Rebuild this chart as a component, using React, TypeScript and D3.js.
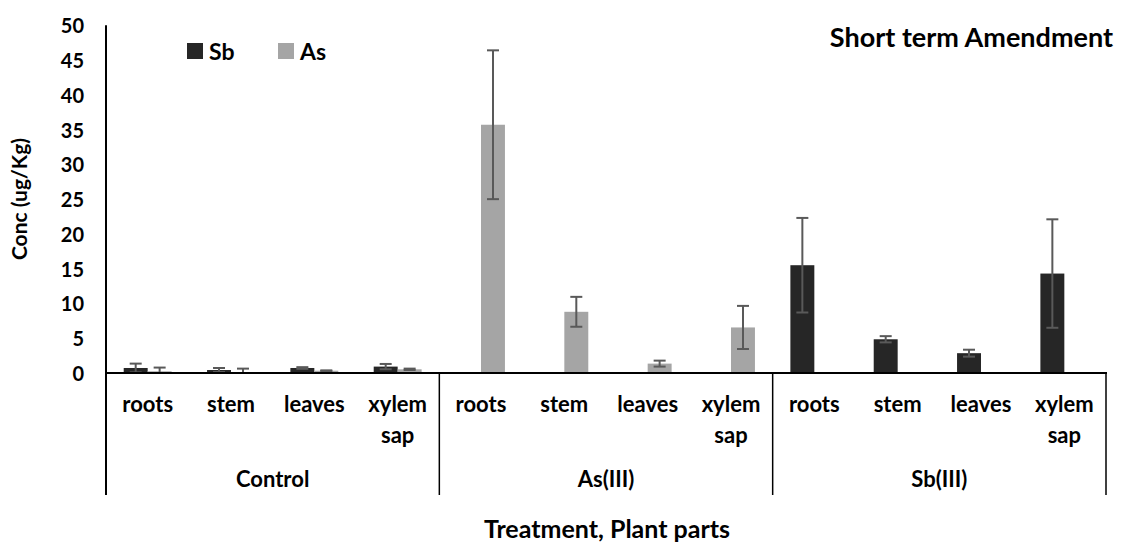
import React from "react";
import * as d3 from "d3";

const categories = [
  "roots", "stem", "leaves", "xylem sap",
  "roots", "stem", "leaves", "xylem sap",
  "roots", "stem", "leaves", "xylem sap",
];
const groups = ["Control", "As(III)", "Sb(III)"];
const seriesNames = ["Sb", "As"];
const sbValues = [0.72, 0.43, 0.72, 0.92, 0, 0, 0, 0, 15.5, 4.85, 2.85, 14.3];
const sbErrors = [0.63, 0.29, 0.12, 0.38, 0, 0, 0, 0, 6.8, 0.45, 0.5, 7.8];
const asValues = [0.25, 0.08, 0.33, 0.53, 35.7, 8.8, 1.35, 6.55, 0, 0, 0, 0];
const asErrors = [0.53, 0.55, 0.05, 0.1, 10.7, 2.15, 0.43, 3.1, 0, 0, 0, 0];
const yTicks = [0, 5, 10, 15, 20, 25, 30, 35, 40, 45, 50];

const W = 1124;
const H = 548;
const FONT = "Lato, 'Open Sans', sans-serif";
const SB_COLOR = "#262626";
const AS_COLOR = "#a5a5a5";
const ERR_COLOR = "#595959";

export default function App() {
  const x0 = 106;
  const x1 = 1106;
  const yZero = 373;
  const yTop = 25.3;

  const x = d3
    .scaleBand<number>()
    .domain(d3.range(categories.length))
    .range([x0, x1])
    .paddingInner(0)
    .paddingOuter(0);
  const bw = x.bandwidth();
  const barW = bw * 0.2874;
  const xs = d3.scaleBand<string>().domain(seriesNames).range([-barW, barW]);
  const y = d3.scaleLinear().domain([0, 50]).range([yZero, yTop]);
  const gx = d3
    .scaleBand<number>()
    .domain(d3.range(groups.length))
    .range([x0, x1]);

  const series = [
    { name: "Sb", values: sbValues, errors: sbErrors, color: SB_COLOR },
    { name: "As", values: asValues, errors: asErrors, color: AS_COLOR },
  ];

  const capHalf = 6;

  return (
    <svg
      width={W}
      height={H}
      style={{ position: "absolute", left: 0, top: 0, background: "#fff" }}
      fontFamily={FONT}
      fontWeight="bold"
    >
      <rect x={0} y={0} width={W} height={H} fill="#fff" />
      {/* bars */}
      {series.map((s) =>
        s.values.map((v, i) => {
          if (v <= 0) return null;
          const bx = (x(i) as number) + bw / 2 + (xs(s.name) as number);
          return (
            <rect
              key={s.name + i}
              x={bx}
              y={y(v)}
              width={xs.bandwidth()}
              height={y(0) - y(v)}
              fill={s.color}
            />
          );
        })
      )}
      {/* error bars */}
      {series.map((s) =>
        s.values.map((v, i) => {
          const e = s.errors[i];
          if (e <= 0) return null;
          const cx = (x(i) as number) + bw / 2 + (xs(s.name) as number) + xs.bandwidth() / 2;
          const lo = Math.max(0, v - e);
          const hi = v + e;
          return (
            <g key={"e" + s.name + i} stroke={ERR_COLOR} strokeWidth={2}>
              <line x1={cx} x2={cx} y1={y(lo)} y2={y(hi)} />
              <line x1={cx - capHalf} x2={cx + capHalf} y1={y(hi)} y2={y(hi)} />
              {v - e > 0 && (
                <line x1={cx - capHalf} x2={cx + capHalf} y1={y(lo)} y2={y(lo)} />
              )}
            </g>
          );
        })
      )}
      {/* axes */}
      <line x1={x0} x2={x0} y1={yTop} y2={495} stroke="#000" strokeWidth={2} />
      <line x1={x0 - 1} x2={x1 + 1} y1={yZero} y2={yZero} stroke="#000" strokeWidth={2} />
      {groups.map((g, gi) => {
        const xr = (gx(gi) as number) + gx.bandwidth();
        return (
          <line
            key={"sep" + gi}
            x1={xr}
            x2={xr}
            y1={yZero}
            y2={495}
            stroke="#000"
            strokeWidth={1.5}
          />
        );
      })}
      {/* y ticks */}
      {yTicks.map((t) => (
        <text
          key={"t" + t}
          x={84}
          y={y(t)}
          textAnchor="end"
          dominantBaseline="central"
          fontSize={20}
          fill="#000"
        >
          {t}
        </text>
      ))}
      {/* category labels */}
      {categories.map((c, i) => {
        const lines = c.split(" ");
        const cx = (x(i) as number) + bw / 2;
        return (
          <text key={"c" + i} x={cx} y={412} textAnchor="middle" fontSize={22} fill="#000">
            {lines.map((ln, li) => (
              <tspan key={li} x={cx} dy={li === 0 ? 0 : 31}>
                {ln}
              </tspan>
            ))}
          </text>
        );
      })}
      {/* group labels */}
      {groups.map((g, gi) => (
        <text
          key={"g" + gi}
          x={(gx(gi) as number) + gx.bandwidth() / 2}
          y={487}
          textAnchor="middle"
          fontSize={22}
          fill="#000"
        >
          {g}
        </text>
      ))}
      {/* axis titles */}
      <text x={607} y={538} textAnchor="middle" fontSize={25} fill="#000">
        Treatment, Plant parts
      </text>
      <text
        transform={`translate(27,199) rotate(-90)`}
        textAnchor="middle"
        fontSize={21}
        fill="#000"
      >
        Conc (ug/Kg)
      </text>
      {/* title */}
      <text x={1113} y={47} textAnchor="end" fontSize={27} fill="#000">
        Short term Amendment
      </text>
      {/* legend */}
      <rect x={187} y={43} width={16} height={16} fill={SB_COLOR} />
      <text x={209} y={51} dominantBaseline="central" fontSize={23} fill="#000">
        Sb
      </text>
      <rect x={278} y={43} width={16} height={16} fill={AS_COLOR} />
      <text x={300} y={51} dominantBaseline="central" fontSize={23} fill="#000">
        As
      </text>
    </svg>
  );
}
